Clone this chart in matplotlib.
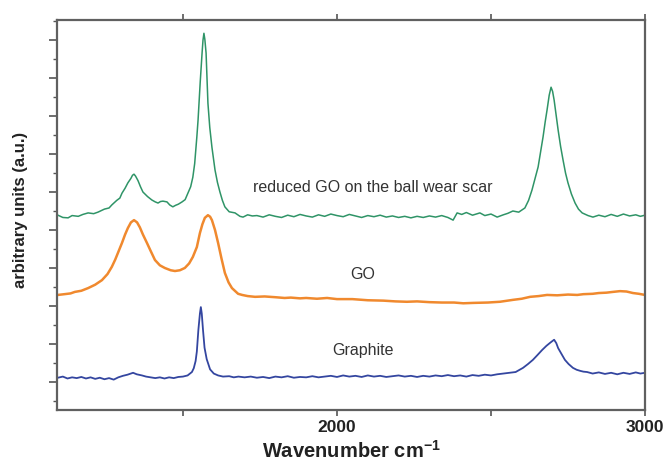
import matplotlib
matplotlib.use("Agg")
import matplotlib.pyplot as plt

plt.rcParams['font.family'] = ['Liberation Sans', 'DejaVu Sans']
plt.rcParams['mathtext.fontset'] = 'custom'
plt.rcParams['mathtext.bf'] = 'Liberation Sans:bold'
plt.rcParams['mathtext.rm'] = 'Liberation Sans:bold'

# reduced GO on the ball wear scar (green)
rgo_wn = [1094, 1110, 1127, 1140, 1160, 1175, 1192, 1210, 1224, 1245, 1260, 1269, 1285, 1295,
          1302, 1312, 1321, 1331, 1336, 1341, 1346, 1354, 1362, 1370, 1385, 1399, 1410, 1419,
          1427, 1435, 1448, 1457, 1467, 1476, 1485, 1497, 1507, 1516, 1525, 1532, 1538, 1545,
          1549, 1552, 1556, 1559, 1562, 1565, 1568, 1571, 1573, 1575, 1578, 1581, 1587, 1594,
          1604, 1612, 1620, 1628, 1636, 1650, 1669, 1685, 1695, 1710, 1725,
          1740, 1760, 1780, 1800, 1820, 1840, 1860, 1880, 1900, 1920, 1940, 1960, 1980,
          2000, 2020, 2040, 2060, 2080, 2100, 2120, 2140, 2160, 2180, 2200, 2220, 2240,
          2260, 2280, 2300, 2320, 2340, 2360, 2377, 2390, 2405, 2420, 2440, 2464, 2480,
          2500, 2520, 2540, 2555, 2571, 2590, 2610, 2622, 2633, 2643, 2653, 2661, 2669, 2676,
          2682, 2689, 2695, 2700, 2705, 2711, 2718, 2726, 2734, 2742, 2750, 2761, 2773, 2784,
          2796, 2815, 2831, 2850, 2870, 2890, 2910, 2930, 2950, 2970, 2985, 3000]
rgo_int = [5.39, 5.33, 5.32, 5.38, 5.36, 5.41, 5.45, 5.43, 5.47, 5.55, 5.58, 5.66, 5.78, 5.84,
           5.97, 6.10, 6.24, 6.36, 6.44, 6.47, 6.42, 6.30, 6.14, 6.00, 5.88, 5.79, 5.74, 5.71,
           5.75, 5.76, 5.74, 5.66, 5.61, 5.65, 5.68, 5.74, 5.80, 5.97, 6.14, 6.39, 6.75, 7.45,
           7.90, 8.34, 8.90, 9.30, 9.66, 10.00, 10.18, 10.02, 9.85, 9.66, 9.00, 8.34, 7.70, 7.18,
           6.58, 6.25, 6.00, 5.78, 5.61, 5.48, 5.45, 5.36, 5.34, 5.40, 5.37,
           5.38, 5.34, 5.40, 5.36, 5.33, 5.39, 5.35, 5.41, 5.37, 5.34, 5.40, 5.36, 5.42,
           5.38, 5.35, 5.41, 5.37, 5.33, 5.38, 5.35, 5.39, 5.34, 5.37, 5.33, 5.36, 5.32,
           5.36, 5.33, 5.37, 5.34, 5.38, 5.33, 5.26, 5.45, 5.41, 5.46, 5.39, 5.45, 5.38,
           5.42, 5.34, 5.40, 5.44, 5.50, 5.47, 5.58, 5.78, 6.05, 6.35, 6.66, 7.05, 7.45, 7.85,
           8.16, 8.55, 8.76, 8.65, 8.42, 8.05, 7.63, 7.20, 6.84, 6.50, 6.24, 5.95, 5.71, 5.55,
           5.45, 5.38, 5.34, 5.39, 5.35, 5.41, 5.36, 5.42, 5.37, 5.40, 5.36, 5.39]

# GO (orange)
go_wn = [1094, 1115, 1135, 1149, 1170, 1192, 1215, 1237, 1255, 1269, 1280, 1290, 1302, 1312,
         1321, 1331, 1341, 1351, 1360, 1370, 1383, 1395, 1409, 1425, 1441, 1460, 1474, 1490,
         1506, 1520, 1532, 1545, 1555, 1563, 1571, 1581, 1588, 1594, 1604, 1614, 1625, 1636,
         1648, 1659, 1679, 1692, 1710, 1734, 1765, 1800, 1830, 1850, 1880, 1900, 1935, 1968,
         2000, 2050, 2100, 2150, 2190, 2227, 2260, 2300, 2340, 2380, 2410, 2442, 2490, 2529,
         2571, 2600, 2627, 2655, 2682, 2715, 2750, 2780, 2800, 2830, 2850, 2875, 2896, 2919,
         2940, 2961, 2980, 3000]
go_int = [3.29, 3.31, 3.33, 3.37, 3.40, 3.47, 3.56, 3.68, 3.84, 4.03, 4.22, 4.42, 4.66, 4.88,
          5.05, 5.20, 5.26, 5.20, 5.07, 4.88, 4.66, 4.45, 4.21, 4.07, 4.00, 3.94, 3.92, 3.94,
          4.00, 4.12, 4.29, 4.55, 4.92, 5.15, 5.32, 5.39, 5.35, 5.26, 5.00, 4.66, 4.25, 3.87,
          3.62, 3.47, 3.32, 3.29, 3.26, 3.24, 3.25, 3.23, 3.21, 3.22, 3.20, 3.21, 3.19, 3.21,
          3.18, 3.18, 3.15, 3.14, 3.12, 3.11, 3.12, 3.10, 3.09, 3.09, 3.07, 3.08, 3.09, 3.11,
          3.16, 3.19, 3.24, 3.26, 3.29, 3.28, 3.30, 3.29, 3.31, 3.32, 3.34, 3.35, 3.37, 3.39,
          3.38, 3.34, 3.32, 3.29]

# Graphite (blue)
gr_wn = [1094, 1110, 1125, 1140, 1155, 1170, 1185, 1200, 1215, 1230, 1245, 1260, 1275,
         1290, 1305, 1320, 1338, 1350, 1367, 1380, 1395, 1410, 1425, 1440, 1455, 1470,
         1485, 1500, 1515, 1529, 1535, 1541, 1545, 1550, 1555, 1558, 1561, 1565, 1570, 1577,
         1588, 1600, 1614, 1630, 1650, 1665, 1680,
         1700, 1720, 1740, 1760, 1780, 1800, 1820, 1840, 1860, 1880, 1900, 1920, 1940,
         1960, 1980, 2000, 2020, 2040, 2060, 2080, 2100, 2120, 2140, 2160, 2180, 2200,
         2220, 2240, 2260, 2280, 2300, 2320, 2340, 2360, 2380, 2400, 2420, 2440, 2460,
         2480, 2500, 2520, 2540, 2560, 2580, 2604, 2620, 2636, 2650, 2666, 2680, 2692,
         2700, 2705, 2712, 2718, 2730, 2740, 2752, 2766, 2778, 2790, 2800, 2812, 2830, 2850,
         2870, 2890, 2910, 2930, 2950, 2970, 2985, 3000]
gr_int = [1.11, 1.14, 1.09, 1.12, 1.10, 1.13, 1.09, 1.12, 1.08, 1.11, 1.07, 1.10, 1.06,
          1.12, 1.16, 1.19, 1.24, 1.20, 1.17, 1.14, 1.12, 1.10, 1.12, 1.09, 1.12, 1.10,
          1.13, 1.14, 1.17, 1.26, 1.36, 1.55, 1.80, 2.37, 2.80, 2.97, 2.80, 2.37, 1.90, 1.60,
          1.33, 1.22, 1.17, 1.14, 1.15, 1.12, 1.14,
          1.12, 1.14, 1.11, 1.13, 1.10, 1.14, 1.12, 1.15, 1.11, 1.13, 1.12, 1.15, 1.12,
          1.14, 1.16, 1.13, 1.17, 1.14, 1.16, 1.13, 1.17, 1.14, 1.16, 1.13, 1.15, 1.17,
          1.14, 1.16, 1.13, 1.16, 1.14, 1.17, 1.15, 1.18, 1.15, 1.17, 1.14, 1.18, 1.16,
          1.19, 1.17, 1.20, 1.22, 1.24, 1.26, 1.37, 1.47, 1.58, 1.70, 1.84, 1.95, 2.03,
          2.08, 2.11, 2.02, 1.89, 1.72, 1.58, 1.47, 1.37, 1.32, 1.29, 1.27, 1.26, 1.22, 1.25,
          1.21, 1.24, 1.20, 1.24, 1.21, 1.25, 1.22, 1.24]

labels = ['reduced GO on the ball wear scar', 'GO', 'Graphite']
label_wn = [2117, 2084, 2086]
label_int = [6.13, 3.82, 1.84]

fig = plt.figure(figsize=(6.67, 4.61), dpi=100)
ax = fig.add_axes([57/667, 51/461, 588/667, 390/461])

ax.plot(rgo_wn, rgo_int, color='#2f9467', lw=1.1)
ax.plot(go_wn, go_int, color='#f0892e', lw=1.8)
ax.plot(gr_wn, gr_int, color='#3446a0', lw=1.3)

for txt, x, y in zip(labels, label_wn, label_int):
    ax.text(x, y, txt, ha='center', va='center', fontsize=11.5, color='#333333')

ax.set_xlim(1091, 3000)
ax.set_ylim(0.26, 10.53)

ax.set_xticks([1500, 2000, 2500, 3000])
ax.set_xticklabels(['', '2000', '', '3000'], fontsize=12.5, fontweight='bold', color='#222222')
ax.set_yticks(range(1, 11))
ax.set_yticks([v + 0.5 for v in range(0, 11)], minor=True)
ax.set_yticklabels([])
ax.tick_params(axis='x', direction='out', length=4, width=1.2, top=True, colors='#555555',
               labelcolor='#222222')
ax.tick_params(axis='y', which='major', direction='out', length=6, width=1.2, colors='#555555')
ax.tick_params(axis='y', which='minor', direction='out', length=3, width=1.0, colors='#555555')

for s in ax.spines.values():
    s.set_color('#606060')
    s.set_linewidth(1.6)

ax.set_xlabel(r'Wavenumber cm$^{\mathbf{-1}}$', fontsize=14.5, fontweight='bold', color='#222222')
ax.xaxis.set_label_coords(0.5, -0.077)
ax.set_ylabel('arbitrary units (a.u.)', fontsize=12, fontweight='bold', color='#222222')
ax.yaxis.set_label_coords(-0.049, 0.513)

plt.savefig('out.png', dpi=100)
